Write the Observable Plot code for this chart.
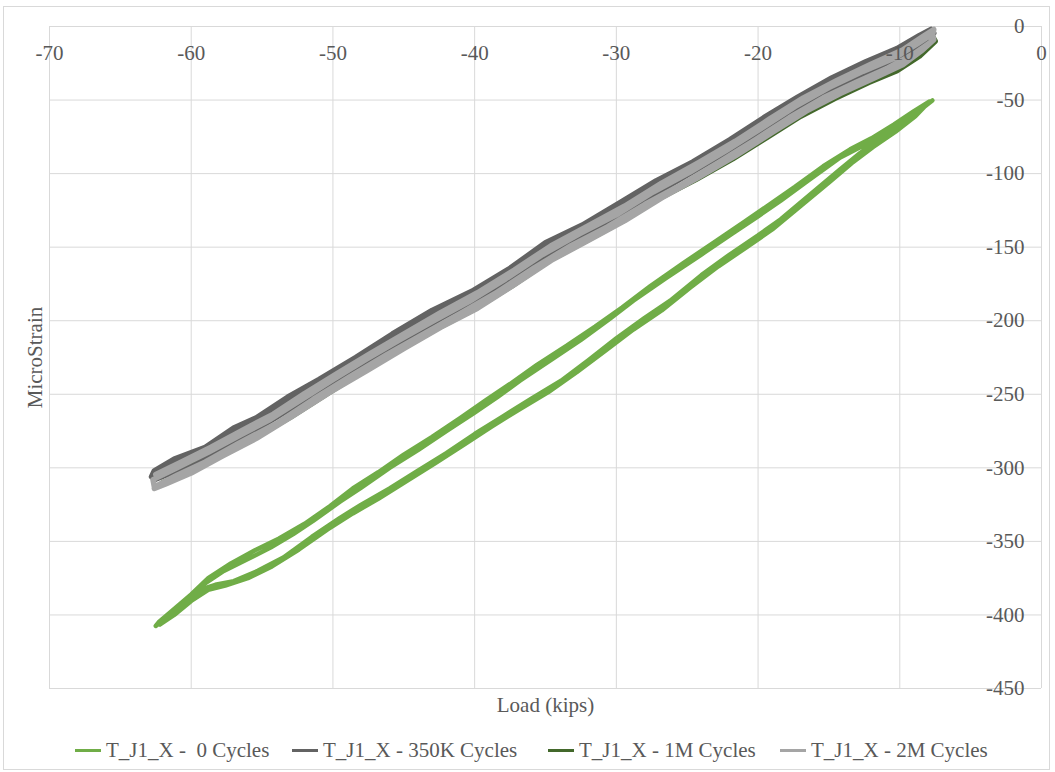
<!DOCTYPE html>
<html><head><meta charset="utf-8">
<script src="https://cdn.jsdelivr.net/npm/d3@7"></script>
<script src="https://cdn.jsdelivr.net/npm/@observablehq/plot@0.6"></script>
<style>
body{margin:0;background:#fff;font-family:"Liberation Serif","Times New Roman",serif;}
#frame{position:absolute;left:3px;top:6px;width:1047px;height:764px;border:1px solid #d9d9d9;box-sizing:border-box;}
#chart{position:absolute;left:0;top:0;}
#legend{position:absolute;top:737px;left:0;width:1055px;height:26px;font-size:21px;color:#595959;}
.item{position:absolute;top:0;white-space:pre;display:flex;align-items:center;height:26px;}
.sw{display:inline-block;width:26px;height:3px;margin-right:5px;}
</style></head><body>
<div id="frame"></div><div id="chart"></div><div id="legend"></div>
<script>
const seriesNames = ["T_J1_X -  0 Cycles", "T_J1_X - 350K Cycles", "T_J1_X - 1M Cycles", "T_J1_X - 2M Cycles"];
const seriesColors = ["#70AD47", "#636363", "#43682B", "#A5A5A5"];
const xTicks = [-70, -60, -50, -40, -30, -20, -10, 0];
const yTicks = [0, -50, -100, -150, -200, -250, -300, -350, -400, -450];

// 0 Cycles
const load0 = [
  -62.5, -61.6, -60.5, -59.1, -57.7, -56.0, -54.4, -52.8, -51.4, -49.5, -48.0, -46.0, -44.0, -42.0, -40.0, -38.4, -36.8, -34.5, -32.5, -30.5, -28.8, -26.5, -24.0, -21.8, -20.0, -18.4, -16.5, -14.2, -12.8, -11.4, -9.6, -8.4, -7.7,
  -8.6, -9.8, -11.4, -12.8, -14.2, -16.3, -18.4, -20.0, -22.0, -24.0, -26.2, -28.0, -30.0, -32.0, -33.9, -36.0, -38.0, -40.0, -42.0, -44.0, -46.0, -48.0, -49.5, -51.5, -53.5, -55.3, -57.0, -58.3, -59.4, -60.5, -61.6, -62.5,
  -62.3, -61.2, -60.0, -58.8, -57.2, -55.5, -53.8, -52.0, -50.2, -48.6, -46.8, -45.0, -43.0, -41.0, -39.2, -37.5, -35.6, -33.5, -31.5, -29.6, -27.6, -25.3, -23.0, -21.0, -19.2, -17.4, -15.4, -13.5, -12.0, -10.4, -9.0, -7.9,
  -8.9, -10.3, -11.9, -13.4, -15.0, -17.0, -19.0, -20.8, -22.8, -24.8, -26.8, -28.8, -30.8, -32.8, -34.8, -36.8, -38.8, -40.8, -42.8, -44.8, -46.8, -48.6, -50.4, -52.4, -54.3, -56.0, -57.6, -58.8, -60.0, -61.2, -62.2
];
const strain0 = [
  -407.5, -401, -392.7, -379.1, -370.1, -362, -354.2, -345, -336.1, -323, -313.4, -300, -288, -275, -262.4, -252, -240.8, -226, -213, -199, -186.4, -171, -155, -140.6, -129, -118.4, -105, -89, -82, -75, -63, -55, -50.3,
  -57, -66, -76, -86, -97, -114, -131, -142, -155, -169, -186.4, -198, -212, -227, -240.8, -253, -265, -277, -290, -302, -314, -325, -334, -347, -361, -370, -377, -379.5, -383, -393.5, -401.5, -407.5,
  -405, -396, -386, -375, -365, -356, -348, -338, -326, -314, -303, -291, -279, -266, -254, -243, -230, -217, -204, -191, -176.5, -161, -146, -133, -121, -109, -95, -83.5, -76, -66.5, -57.5, -51,
  -61, -71.5, -82, -93, -106, -122, -138, -150, -163, -177.5, -193, -206, -220.5, -235, -248.5, -260, -272, -284.5, -297, -309, -321, -331, -342, -355.5, -367, -375, -380, -383, -390.5, -400, -406.5
];

// 350K Cycles
const load350K = [
  -62.8, -62.6, -61.2, -59.0, -57.0, -55.4, -53.2, -51.0, -48.4, -45.8, -43.0, -40.2, -37.6, -35.0, -32.4, -29.8, -27.2, -24.6, -22.0, -19.6, -17.2, -14.8, -12.4, -10.2, -8.6, -7.8,
  -7.6, -8.8, -10.6, -12.8, -15.2, -17.6, -20.0, -22.6, -25.2, -27.8, -30.4, -33.0, -35.6, -38.2, -40.8, -43.4, -46.0, -48.6, -51.2, -53.8, -56.2, -58.6, -60.6, -62.2,
  -62.4, -60.4, -58.2, -56.0, -53.8, -51.6, -49.2, -46.6, -44.0, -41.4, -38.8, -36.2, -33.6, -31.0, -28.4, -25.8, -23.2, -20.8, -18.4, -16.0, -13.6, -11.2, -9.2, -7.9,
  -7.7, -9.4, -11.6, -14.0, -16.4, -18.8, -21.4, -24.0, -26.6, -29.2, -31.8, -34.4, -37.0, -39.6, -42.2, -44.8, -47.4, -50.0, -52.6, -55.0, -57.4, -59.6, -61.4, -62.6
];
const strain350K = [
  -306, -302, -294, -286, -273, -266, -252, -240, -225, -209, -193, -180, -165, -147, -135, -120, -105, -92, -77, -62, -48, -35, -24, -15, -6, -2,
  -4.5, -12, -22.5, -31.5, -42.5, -55.5, -71, -86.5, -101.5, -115, -130, -143, -157.5, -174, -189, -203, -217, -231.5, -247, -263.5, -276.5, -288.5, -298.5, -305.5,
  -302, -294, -283, -271, -259, -246, -231, -216, -202, -188, -174, -157, -142, -129, -114, -101, -85, -72, -56, -43, -31, -21, -10, -3,
  -6, -17.5, -28, -38.5, -51, -64.5, -81, -95.5, -110, -125, -138.5, -152, -168.5, -184, -197.5, -212, -227, -241.5, -257.5, -271.5, -284, -296, -303.5, -308
];

// 1M Cycles
const load1M = [
  -62.4, -60.0, -57.4, -54.8, -52.2, -49.6, -47.0, -44.4, -41.8, -39.2, -36.6, -34.0, -31.4, -28.8, -26.2, -23.6, -21.0, -18.6, -16.2, -13.8, -11.4, -9.4, -7.8,
  -7.5, -8.6, -10.2, -12.2, -14.6, -17.0, -19.4, -21.8, -24.4, -27.0, -29.6, -32.2, -34.8, -37.4, -40.0, -42.6, -45.2, -47.8, -50.4, -53.0, -55.6, -58.0, -60.2, -62.0
];
const strain1M = [
  -305.5, -295, -281, -268.5, -252.5, -236.5, -222, -207, -193, -179, -163.5, -147, -134, -120, -105, -91, -76, -61, -47, -35, -24.5, -15, -5,
  -10, -20, -30, -38, -49, -61, -75.5, -90, -104, -117, -132.5, -146, -159.5, -176.5, -192, -205, -219.5, -234, -249.5, -265.5, -280, -292, -303.5, -310
];

// 2M Cycles
const load2M = [
  -62.5, -60.8, -58.6, -56.4, -54.2, -52.0, -49.8, -47.4, -44.8, -42.4, -39.8, -37.2, -34.6, -32.0, -29.4, -26.8, -24.2, -21.6, -19.2, -16.8, -14.4, -12.0, -9.8, -8.4, -7.6,
  -7.8, -9.0, -10.8, -13.0, -15.4, -17.8, -20.2, -22.8, -25.4, -28.0, -30.6, -33.2, -35.8, -38.4, -41.0, -43.6, -46.2, -48.8, -51.4, -54.0, -56.6, -59.0, -61.0, -62.6,
  -62.7, -61.0, -58.8, -56.6, -54.4, -52.2, -50.0, -47.6, -45.2, -42.8, -40.4, -37.8, -35.2, -32.6, -30.0, -27.4, -24.8, -22.2, -19.8, -17.4, -15.0, -12.6, -10.4, -8.8, -7.7,
  -7.6, -8.4, -9.8, -11.8, -14.2, -16.6, -19.0, -21.6, -24.2, -26.8, -29.4, -32.0, -34.6, -37.2, -39.8, -42.4, -45.0, -47.6, -50.2, -52.8, -55.4, -57.8, -60.0, -61.8, -62.6
];
const strain2M = [
  -304.5, -296.5, -286, -274.5, -263.5, -249.5, -236.5, -222.5, -208, -194.5, -181, -165.5, -149, -135.5, -122, -106.5, -92.5, -78, -63, -48.5, -36.5, -25.5, -16, -7, -2,
  -10.5, -18.5, -28, -37.5, -48.5, -62, -77, -92.5, -107.5, -121, -136, -149, -164, -180.5, -195, -209, -223, -238, -253.5, -270, -283, -296, -305, -313,
  -308, -300, -289.5, -278, -267, -253.5, -240, -226, -212.5, -199.5, -187, -171.5, -155, -141, -128, -112.5, -99, -84, -69.5, -54.5, -41.5, -30.5, -21.5, -12, -5,
  -9, -16, -26, -35, -45.5, -57.5, -72, -88, -102.5, -116.5, -132, -145.5, -159, -175.5, -191.5, -204.5, -219, -234, -248.5, -264.5, -280, -292, -303.5, -311, -314
];

const loads = [load0, load350K, load1M, load2M];
const strains = [strain0, strain350K, strain1M, strain2M];
const rows = [];
seriesNames.forEach((name, i) => {
  loads[i].forEach((v, j) => rows.push({series: name, load: v, strain: strains[i][j]}));
});
const greenRows = rows.filter(d => d.series === seriesNames[0]);
const grayRows = rows.filter(d => d.series !== seriesNames[0]);

const chart = Plot.plot({
  width: 1055, height: 725,
  marginLeft: 49, marginRight: 14, marginTop: 26, marginBottom: 37,
  style: {fontFamily: "Liberation Serif, Times New Roman, serif", fontSize: "21px", color: "#595959", background: "transparent", overflow: "visible"},
  x: {domain: [-70, 0]},
  y: {domain: [-450, 0]},
  color: {domain: seriesNames, range: seriesColors},
  marks: [
    Plot.gridX(xTicks, {stroke: "#d9d9d9", strokeOpacity: 1}),
    Plot.gridY(yTicks, {stroke: "#d9d9d9", strokeOpacity: 1}),
    Plot.line(greenRows, {x: "load", y: "strain", z: "series", stroke: "series", strokeWidth: 4.5, strokeLinejoin: "round", strokeLinecap: "round"}),
    Plot.line(grayRows, {x: "load", y: "strain", z: "series", stroke: "series", strokeWidth: 5.5, strokeLinejoin: "round", strokeLinecap: "round"}),
    Plot.axisX(xTicks, {anchor: "top", tickSize: 0, tickPadding: 0, dy: 33, tickFormat: d => String(d), label: null, fill: "#595959"}),
    Plot.axisY(yTicks, {anchor: "right", tickSize: 0, tickPadding: 0, dx: -17, textAnchor: "end", tickFormat: d => String(d), label: null, fill: "#595959"}),
    Plot.text(["Load (kips)"], {frameAnchor: "bottom", dy: 17, text: d => d, lineAnchor: "middle", fill: "#595959"}),
    Plot.text(["MicroStrain"], {frameAnchor: "left", rotate: -90, dx: -14, textAnchor: "middle", text: d => d, fill: "#595959"})
  ]
});
document.getElementById("chart").appendChild(chart);

const legendX = [75, 292, 548, 780];
const legend = document.getElementById("legend");
seriesNames.forEach((name, i) => {
  const item = document.createElement("div");
  item.className = "item";
  item.style.left = legendX[i] + "px";
  const sw = document.createElement("span");
  sw.className = "sw";
  sw.style.background = seriesColors[i];
  const t = document.createElement("span");
  t.textContent = name;
  item.appendChild(sw);
  item.appendChild(t);
  legend.appendChild(item);
});
</script>
</body></html>
